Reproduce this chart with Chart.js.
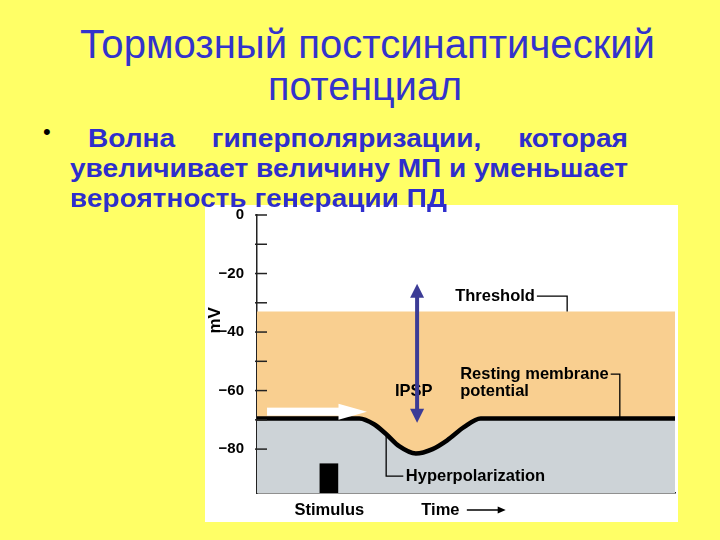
<!DOCTYPE html>
<html lang="ru">
<head>
<meta charset="UTF-8" />
<title>Тормозный постсинаптический потенциал</title>
<script src="https://cdn.jsdelivr.net/npm/chart.js"></script>
<style>
  html, body { margin: 0; padding: 0; }
  body {
    width: 720px; height: 540px; position: relative; overflow: hidden;
    background: #FFFF66;
    font-family: 'Liberation Sans', Arial, sans-serif;
  }
  .title {
    position: absolute; color: #3333CC; font-size: 40px; line-height: 1;
    white-space: nowrap; transform-origin: left top; z-index: 2;
  }
  .line {
    position: absolute; color: #2E2ECC; font-weight: bold; font-size: 26px;
    line-height: 1; white-space: nowrap; transform-origin: left top; z-index: 2;
  }
  .just { display: flex; justify-content: space-between; }
  .bullet { position: absolute; left: 43px; top: 121px; font-size: 22px; color: #000; line-height: 1; }
  #panel { position: absolute; left: 205px; top: 205px; width: 473px; height: 317px; background: #fff; z-index: 1; }
  #ipsp { position: absolute; left: 0; top: -4px; }
</style>
</head>
<body>
  <div class="title fit" data-w="575" style="left:80px; top:24px;">Тормозный постсинаптический</div>
  <div class="title fit" data-w="194" style="left:268px; top:66px;">потенциал</div>

  <div class="bullet">•</div>
  <div class="line just" id="l1" style="left:88px; top:125px;"><span>Волна</span><span>гиперполяризации,</span><span>которая</span></div>
  <div class="line fit" id="l2" data-w="558" style="left:70px; top:155px;">увеличивает величину МП и уменьшает</div>
  <div class="line fit" data-w="377" style="left:70px; top:185px;">вероятность генерации ПД</div>

  <div id="panel"><canvas id="ipsp" width="473" height="321"></canvas></div>

<script>
  // stretch text lines to the widths seen on the slide
  document.querySelectorAll('.fit').forEach(el => {
    el.style.display = 'inline-block';
    const w = el.getBoundingClientRect().width;
    el.style.transform = 'scaleX(' + (+el.dataset.w / w) + ')';
    el.dataset.k = +el.dataset.w / w;
  });
  // first (justified) line uses the same stretch as the second
  const k = +document.getElementById('l2').dataset.k;
  const l1 = document.getElementById('l1');
  l1.style.width = (540 / k) + 'px';
  l1.style.transform = 'scaleX(' + k + ')';

  // membrane potential trace (time in arbitrary units, mV)
  const timeX      = [0, 24.5, 28, 31, 34, 38, 42, 45.5, 49.5, 53.5, 100];
  const membraneMv = [-69.5, -69.5, -71.5, -75, -79, -81.5, -80, -77, -72.5, -69.5, -69.5];
  const thresholdMv = -33;
  const stimulusTime = 17.2;
  const stimulusMv = [-95, -85];
  const yTickValues = [0, -10, -20, -30, -40, -50, -60, -70, -80];
  const yLabelValues = [0, -20, -40, -60, -80];

  const FONT = "'Liberation Sans', Arial, sans-serif";

  function arrowHead(ctx, x, y, dx, dy, len, half) {
    // dx,dy: unit direction of the arrow tip
    ctx.beginPath();
    ctx.moveTo(x, y);
    ctx.lineTo(x - dx * len - dy * half, y - dy * len + dx * half);
    ctx.lineTo(x - dx * len + dy * half, y - dy * len - dx * half);
    ctx.closePath();
    ctx.fill();
  }

  const annotations = {
    id: 'annotations',
    afterDatasetsDraw(chart) {
      const ctx = chart.ctx, xs = chart.scales.x, ys = chart.scales.y;
      const X = t => xs.getPixelForValue(t), Y = v => ys.getPixelForValue(v);
      const area = chart.chartArea;
      ctx.save();

      // inward tick marks
      ctx.strokeStyle = '#222';
      ctx.lineWidth = 1.5;
      yTickValues.forEach(v => {
        ctx.beginPath();
        ctx.moveTo(area.left - 2, Y(v));
        ctx.lineTo(area.left + 10, Y(v));
        ctx.stroke();
      });

      // white arrow along the resting line
      ctx.fillStyle = '#fff';
      const ay = Y(-67.2);
      ctx.fillRect(X(2.4), ay - 4, X(20) - X(2.4), 8);
      ctx.beginPath();
      ctx.moveTo(X(19.5), ay - 8);
      ctx.lineTo(X(26.3), ay);
      ctx.lineTo(X(19.5), ay + 8);
      ctx.closePath();
      ctx.fill();

      // text labels
      ctx.fillStyle = '#000';
      ctx.font = 'bold 16.5px ' + FONT;
      ctx.textBaseline = 'middle';
      ctx.textAlign = 'left';
      ctx.strokeStyle = '#000';
      ctx.lineWidth = 1.3;

      const label = (txt, t, mv) => {
        ctx.fillText(txt, X(t), Y(mv));
        return X(t) + ctx.measureText(txt).width;
      };

      let end = label('Threshold', 47.4, -27.7);
      ctx.beginPath();
      ctx.moveTo(end + 2, Y(-27.7)); ctx.lineTo(X(74.2), Y(-27.7)); ctx.lineTo(X(74.2), Y(thresholdMv));
      ctx.stroke();

      end = label('Resting membrane', 48.6, -54.4);
      label('potential', 48.6, -60.2);
      ctx.beginPath();
      ctx.moveTo(end + 2, Y(-54.4)); ctx.lineTo(X(86.8), Y(-54.4)); ctx.lineTo(X(86.8), Y(-69.5));
      ctx.stroke();

      label('IPSP', 33.0, -60.2);

      label('Hyperpolarization', 35.6, -89.2);
      ctx.beginPath();
      ctx.moveTo(X(30.9), Y(-75)); ctx.lineTo(X(30.9), Y(-89.2)); ctx.lineTo(X(35.0), Y(-89.2));
      ctx.stroke();

      // blue double arrow (IPSP amplitude)
      ctx.strokeStyle = '#3C3C96';
      ctx.fillStyle = '#3C3C96';
      ctx.lineWidth = 4;
      const bx = X(38.3), by1 = Y(-23.5), by2 = Y(-71);
      ctx.beginPath();
      ctx.moveTo(bx, by1 + 8); ctx.lineTo(bx, by2 - 8);
      ctx.stroke();
      arrowHead(ctx, bx, by1, 0, -1, 14, 7);
      arrowHead(ctx, bx, by2, 0, 1, 14, 7);

      // bottom captions
      ctx.fillStyle = '#000';
      ctx.strokeStyle = '#000';
      ctx.font = 'bold 16.5px ' + FONT;
      ctx.textAlign = 'center';
      const cy = area.bottom + 17;
      ctx.fillText('Stimulus', X(17.3), cy);
      ctx.textAlign = 'left';
      ctx.fillText('Time', X(39.3), cy);
      ctx.lineWidth = 1.3;
      ctx.beginPath();
      ctx.moveTo(X(50.2), cy); ctx.lineTo(X(58.5), cy);
      ctx.stroke();
      arrowHead(ctx, X(59.5), cy, 1, 0, 8, 3.5);

      // axis title
      ctx.save();
      ctx.translate(area.left - 42, Y(-36));
      ctx.rotate(-Math.PI / 2);
      ctx.textAlign = 'center';
      ctx.font = 'bold 17px ' + FONT;
      ctx.fillText('mV', 0, 0);
      ctx.restore();

      ctx.restore();
    }
  };

  new Chart(document.getElementById('ipsp').getContext('2d'), {
    type: 'line',
    data: {
      datasets: [
        {
          label: 'Membrane potential',
          data: timeX.map((t, i) => ({ x: t, y: membraneMv[i] })),
          borderColor: '#000', borderWidth: 4.5, pointRadius: 0,
          cubicInterpolationMode: 'monotone',
          fill: 'start', backgroundColor: '#CDD3D7', order: 1
        },
        {
          label: 'Threshold',
          data: timeX.map(t => ({ x: t, y: thresholdMv })),
          borderColor: 'rgba(0,0,0,0)', borderWidth: 0, pointRadius: 0,
          fill: { target: 0 }, backgroundColor: '#F9CF90', order: 2
        },
        {
          type: 'bar',
          label: 'Stimulus',
          data: [{ x: stimulusTime, y: stimulusMv }],
          backgroundColor: '#000', barThickness: 18, order: 0
        }
      ]
    },
    options: {
      responsive: false,
      animation: false,
      layout: { padding: { left: 0, top: 0, right: 3, bottom: 29 } },
      plugins: {
        legend: { display: false },
        tooltip: { enabled: false },
        filler: { drawTime: 'beforeDatasetsDraw' }
      },
      scales: {
        x: {
          type: 'linear', min: 0, max: 100, offset: false,
          ticks: { display: false },
          grid: { display: false, drawTicks: false },
          border: { display: true, color: '#222', width: 1.5 },
          afterFit(s) { s.height = 0; }
        },
        y: {
          min: -95, max: 0,
          afterBuildTicks(s) { s.ticks = yTickValues.map(v => ({ value: v })); },
          ticks: {
            padding: 5, color: '#000',
            font: { family: FONT, size: 15, weight: 'bold' },
            callback: v => yLabelValues.includes(v) ? (v < 0 ? '\u2212' + (-v) : '0') : ''
          },
          grid: { display: false },
          border: { display: true, color: '#222', width: 1.5 },
          afterFit(s) { s.width = 52; }
        }
      }
    },
    plugins: [annotations]
  });
</script>
</body>
</html>
